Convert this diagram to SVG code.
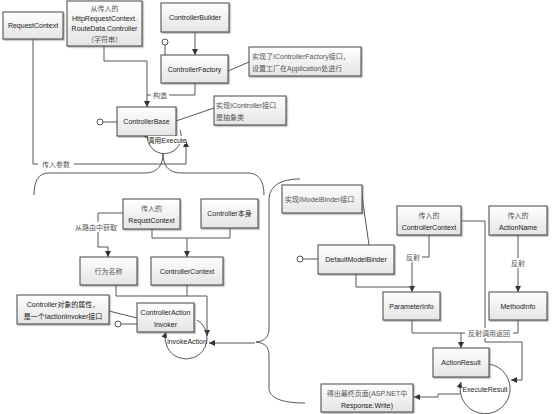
<svg xmlns="http://www.w3.org/2000/svg" width="554" height="414" viewBox="0 0 554 414">
<defs>
<linearGradient id="g" x1="0" y1="0" x2="0" y2="1"><stop offset="0" stop-color="#ffffff"/><stop offset="1" stop-color="#e4e4e4"/></linearGradient>
<filter id="sh" x="-10%" y="-10%" width="130%" height="140%"><feDropShadow dx="1.2" dy="1.2" stdDeviation="0.7" flood-color="#777" flood-opacity="0.6"/></filter>
<marker id="a" markerUnits="userSpaceOnUse" markerWidth="7" markerHeight="7" refX="6" refY="3" orient="auto"><path d="M0,0 L6,3 L0,6 z" fill="#333"/></marker>
<style>
.b{fill:url(#g);stroke:#444;stroke-width:1;filter:url(#sh)}
.c{fill:none;stroke:#555;stroke-width:1}
.ar{marker-end:url(#a)}
.o{fill:#fff;stroke:#555;stroke-width:1}
text{font-family:"Liberation Sans","Noto Sans CJK SC",sans-serif;font-size:7px;fill:#222}
.m{text-anchor:middle}
.l{fill:#555}
.bg{fill:#fff}
</style>
</defs>
<g id="connectors">
<path class="c ar" d="M33,39 V164 H186 V141"/>
<rect class="bg" x="38" y="159" width="36" height="10"/>
<text class="m l" x="56" y="167">传入参数</text>
<path class="c ar" d="M104,46 V61 H147 V107"/>
<path class="c" d="M195,83 V95 H147"/>
<rect class="bg" x="151" y="90" width="18" height="10"/>
<text class="m l" x="160" y="98">构造</text>
<path class="c ar" d="M195,32 V55"/>
<path class="c" d="M228,71 L249,62"/>
<path class="c" d="M176,121 L214,108"/>
<path class="c" d="M165,55 V45"/><circle class="o" cx="165" cy="42" r="3"/>
<path class="c" d="M103,122 H117"/><circle class="o" cx="100" cy="122" r="3"/>
<path class="c ar" d="M180,130 A17,17 0 1,1 148,132"/>
<path class="c" d="M163,153 C163,165 158,173 145,173 H48 C38,173 34,182 34,195"/>
<path class="c" d="M163,153 C163,165 168,173 181,173 H248 C258,173 264,180 264,195"/>
<path class="c" d="M300,179 C282,179 269,185 269,200 V328 C269,336 266,341 256,342"/>
<path class="c" d="M256,342 C266,343 269,348 269,356 V388 C269,398 282,403 305,403"/>
<path class="c ar" d="M255,343 H209"/>
<path class="c ar" d="M123,213 H98 V247 H108 V257"/>
<rect class="bg" x="73" y="222" width="47" height="10"/>
<text class="m l" x="96" y="230">从路由中获取</text>
<path class="c" d="M152,229 V238 H230 V228"/>
<path class="c ar" d="M187,238 V257"/>
<path class="c ar" d="M116,285 V296 H207 V336"/>
<path class="c" d="M187,285 V296"/>
<path class="c" d="M109,311 L137,318"/>
<path class="c" d="M121,324 H137"/><circle class="o" cx="118" cy="324" r="3"/>
<path class="c ar" d="M197,320 A21,21 0 1,1 166,332"/>
<path class="c" d="M362,196 L369,245"/>
<path class="c" d="M303,259 H318"/><circle class="o" cx="300" cy="259" r="3"/>
<path class="c ar" d="M429,235 V257 H412 V292"/>
<path class="c" d="M356,274 V287 H412"/>
<rect class="bg" x="404" y="252" width="18" height="10"/>
<text class="m l" x="413" y="260">反射</text>
<path class="c ar" d="M518,235 V292"/>
<rect class="bg" x="509" y="258" width="18" height="10"/>
<text class="m l" x="518" y="266">反射</text>
<path class="c ar" d="M412,320 V333 H461 V348"/>
<path class="c" d="M518,320 V333 H461"/>
<path class="c ar" d="M461,221 H485 V342 H522 V380 H511"/>
<rect class="bg" x="465" y="328" width="48" height="10"/>
<text class="m l" x="489" y="336">反射调用返回</text>
<path class="c ar" d="M489,364 A25,25 0 1,1 461,382"/>
<path class="c ar" d="M460,394 H438 V397 H414"/>
</g>
<g id="RequestContext"><rect class="b" x="3" y="12" width="60" height="27"/><text class="m" x="33" y="28">RequestContext</text></g>
<g id="HttpRequestContext"><rect class="b" x="67" y="1" width="75" height="45"/>
<text class="m l" x="104.5" y="11">从传入的</text><text class="m" x="104.5" y="21">HttpRequestContext.</text><text class="m" x="104.5" y="31">RouteData.Controller</text><text class="m l" x="104.5" y="42">（字符串）</text></g>
<g id="ControllerBuilder"><rect class="b" x="161" y="3" width="68" height="29"/><text class="m" x="195" y="20">ControllerBuilder</text></g>
<g id="ControllerFactory"><rect class="b" x="161" y="55" width="67" height="28"/><text class="m" x="194.5" y="72">ControllerFactory</text></g>
<g id="NoteFactory"><rect class="b" x="249" y="47" width="112" height="29"/><text class="l" x="252" y="59">实现了IControllerFactory接口，</text><text class="l" x="252" y="71">设置工厂在Application处进行</text></g>
<g id="ControllerBase"><rect class="b" x="117" y="107" width="59" height="29"/><text class="m" x="146.5" y="124">ControllerBase</text></g>
<g id="NoteBase"><rect class="b" x="214" y="96" width="72" height="29"/><text class="l" x="216" y="108">实现IController接口</text><text class="l" x="216" y="120">是抽象类</text></g>
<g id="lblExecute"><rect class="bg" x="148" y="136" width="38" height="8"/><text class="m" x="167" y="143">调用Execute</text></g>
<g id="RequstContext"><rect class="b" x="123" y="199" width="57" height="30"/><text class="m l" x="151.5" y="211">传入的</text><text class="m" x="151.5" y="223">RequstContext</text></g>
<g id="ControllerSelf"><rect class="b" x="201" y="199" width="57" height="29"/><text class="m" x="229.5" y="216">Controller本身</text></g>
<g id="ActionName"><rect class="b" x="80" y="257" width="57" height="28"/><text class="m l" x="108.5" y="274">行为名称</text></g>
<g id="ControllerContext"><rect class="b" x="151" y="257" width="72" height="28"/><text class="m" x="187" y="274">ControllerContext</text></g>
<g id="NoteInvoker"><rect class="b" x="17" y="295" width="92" height="29"/><text class="m" x="63" y="307">Controller对象的属性，</text><text class="m" x="63" y="319">是一个IactionInvoker接口</text></g>
<g id="ControllerActionInvoker"><rect class="b" x="137" y="303" width="57" height="29"/><text class="m" x="165.5" y="315">ControllerAction</text><text class="m" x="165.5" y="327">Invoker</text></g>
<g id="lblInvoke"><text class="m" x="187" y="344">invokeAction</text></g>
<g id="NoteModelBinder"><rect class="b" x="282" y="185" width="80" height="28"/><text class="l" x="285" y="202">实现IModelBinder接口</text></g>
<g id="InControllerContext"><rect class="b" x="397" y="206" width="64" height="29"/><text class="m l" x="429" y="218">传入的</text><text class="m" x="429" y="230">ControllerContext</text></g>
<g id="InActionName"><rect class="b" x="489" y="206" width="58" height="29"/><text class="m l" x="518" y="218">传入的</text><text class="m" x="518" y="230">ActionName</text></g>
<g id="DefaultModelBinder"><rect class="b" x="318" y="245" width="76" height="29"/><text class="m" x="356" y="262">DefaultModelBinder</text></g>
<g id="ParameterInfo"><rect class="b" x="383" y="292" width="57" height="28"/><text class="m" x="411.5" y="309">ParameterInfo</text></g>
<g id="MethodInfo"><rect class="b" x="489" y="292" width="58" height="28"/><text class="m" x="518" y="309">MethodInfo</text></g>
<g id="ActionResult"><rect class="b" x="433" y="348" width="56" height="29"/><text class="m" x="461" y="365">ActionResult</text></g>
<g id="lblExecuteResult"><text class="m" x="485" y="392">ExecuteResult</text></g>
<g id="Output"><rect class="b" x="321" y="384" width="92" height="28"/><text class="m l" x="367" y="396">得出最终页面(ASP.NET中</text><text class="m" x="367" y="408">Response.Write)</text></g>
</svg>
